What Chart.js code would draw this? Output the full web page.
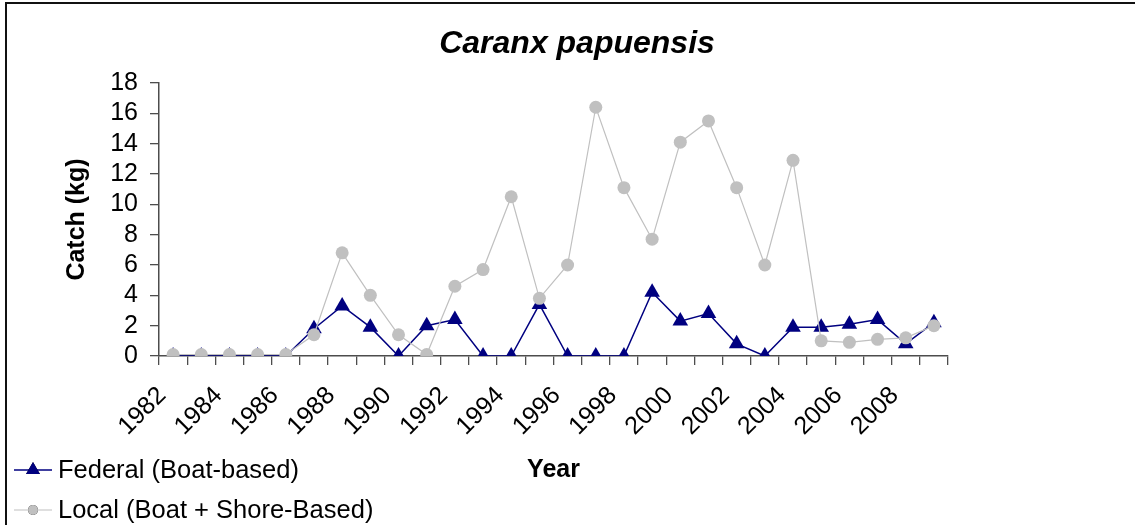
<!DOCTYPE html>
<html>
<head>
<meta charset="utf-8">
<title>Caranx papuensis</title>
<script src="https://cdn.jsdelivr.net/npm/chart.js@4/dist/chart.umd.min.js"></script>
<style>
  html, body { margin: 0; padding: 0; background: #fff; }
  #wrap { position: relative; width: 1135px; height: 525px; }
</style>
</head>
<body>
<div id="wrap"><canvas id="catchChart"></canvas></div>
<script>
const years = ['1982', '1983', '1984', '1985', '1986', '1987', '1988', '1989', '1990', '1991',
               '1992', '1993', '1994', '1995', '1996', '1997', '1998', '1999', '2000', '2001',
               '2002', '2003', '2004', '2005', '2006', '2007', '2008', '2009'];

// catch in kg per year
const federalCatch = [0, 0, 0, 0, 0, 1.8, 3.3, 1.9, 0, 2.0,
                      2.4, 0, 0, 3.4, 0, 0, 0, 4.2, 2.3, 2.8,
                      0.8, 0, 1.9, 1.9, 2.1, 2.4, 0.8, 2.2];
const localCatch = [0.1, 0.1, 0.1, 0.1, 0.1, 1.4, 6.8, 4.0, 1.4, 0.1,
                    4.6, 5.7, 10.5, 3.8, 6.0, 16.4, 11.1, 7.7, 14.1, 15.5,
                    11.1, 6.0, 12.9, 1.0, 0.9, 1.1, 1.2, 2.0];

const seriesNames = ['Federal (Boat-based)', 'Local (Boat + Shore-Based)'];
const yMin = 0, yMax = 18, yStep = 2;

const FONT = "'Liberation Sans', Arial, Helvetica, sans-serif";
const NAVY = '#000080';
const GREY = '#c0c0c0';
const AXIS = '#4d4d4d';

// frame, title and legend drawn straight onto the canvas
const decor = {
    id: 'decor',
    afterDraw(chart) {
        const ctx = chart.ctx;
        ctx.save();

        // outer frame (top and left edges only)
        ctx.strokeStyle = '#111';
        ctx.lineWidth = 2;
        ctx.beginPath();
        ctx.moveTo(1135, 3);
        ctx.lineTo(6, 3);
        ctx.lineTo(6, 525);
        ctx.stroke();

        // title
        ctx.fillStyle = '#000';
        ctx.font = `italic bold 32px ${FONT}`;
        ctx.textAlign = 'center';
        ctx.textBaseline = 'middle';
        ctx.fillText('Caranx papuensis', 577, 44);

        // legend rows
        const rows = [{ y: 470 }, { y: 510 }];
        chart.data.datasets.forEach((ds, i) => {
            const y = rows[i].y;
            ctx.strokeStyle = ds.borderColor;
            ctx.lineWidth = ds.borderWidth;
            ctx.beginPath();
            ctx.moveTo(14, y);
            ctx.lineTo(52, y);
            ctx.stroke();
            Chart.helpers.drawPoint(ctx, {
                pointStyle: ds.pointStyle,
                radius: ds.legendRadius,
                rotation: 0,
                borderWidth: 0
            }, 33, y);
            ctx.fillStyle = ds.pointBackgroundColor;
            ctx.fill();

            ctx.fillStyle = '#000';
            ctx.font = `25.5px ${FONT}`;
            ctx.textAlign = 'left';
            ctx.textBaseline = 'middle';
            ctx.fillText(ds.label, 58, y + 1);
        });
        ctx.restore();
    }
};

const ctx = document.getElementById('catchChart').getContext('2d');

new Chart(ctx, {
    type: 'line',
    data: {
        labels: years,
        datasets: [
            {
                label: seriesNames[0],
                data: federalCatch,
                borderColor: NAVY,
                backgroundColor: NAVY,
                borderWidth: 1.5,
                pointStyle: 'triangle',
                pointRadius: 9,
                legendRadius: 8,
                pointBackgroundColor: NAVY,
                pointBorderColor: NAVY,
                pointBorderWidth: 0,
                tension: 0,
                order: 1
            },
            {
                label: seriesNames[1],
                data: localCatch,
                borderColor: GREY,
                backgroundColor: GREY,
                borderWidth: 1.2,
                pointStyle: 'circle',
                pointRadius: 6.5,
                legendRadius: 5,
                pointBackgroundColor: GREY,
                pointBorderColor: GREY,
                pointBorderWidth: 0,
                tension: 0,
                order: 0
            }
        ]
    },
    options: {
        responsive: true,
        maintainAspectRatio: false,
        animation: false,
        layout: { padding: { left: 0, right: 187, top: 83, bottom: 0 } },
        plugins: {
            legend: { display: false },
            title: { display: false },
            tooltip: { enabled: false }
        },
        scales: {
            x: {
                offset: true,
                grid: {
                    offset: true,
                    drawOnChartArea: false,
                    tickLength: 9,
                    color: AXIS,
                    lineWidth: 1.3
                },
                border: { color: AXIS, width: 1.5 },
                ticks: {
                    autoSkip: false,
                    maxRotation: 45,
                    minRotation: 45,
                    padding: 16,
                    labelOffset: -11,
                    color: '#000',
                    font: { family: FONT, size: 25 },
                    callback: (val, i) => (i % 2 === 0 ? years[i] : '')
                },
                title: {
                    display: true,
                    text: 'Year',
                    color: '#000',
                    font: { family: FONT, size: 25, weight: 'bold' },
                    padding: { top: 0, bottom: 40 }
                },
                afterFit: s => { s.height = 169; }
            },
            y: {
                min: yMin,
                max: yMax,
                grid: {
                    drawOnChartArea: false,
                    tickLength: 9,
                    color: AXIS,
                    lineWidth: 1.3
                },
                border: { color: AXIS, width: 1.5 },
                ticks: {
                    stepSize: yStep,
                    autoSkip: false,
                    padding: 12,
                    color: '#000',
                    font: { family: FONT, size: 25 }
                },
                title: {
                    display: true,
                    text: 'Catch (kg)',
                    color: '#000',
                    font: { family: FONT, size: 25, weight: 'bold' },
                    padding: { top: 62, bottom: 0 }
                },
                afterFit: s => { s.width = 159; }
            }
        }
    },
    plugins: [decor]
});
</script>
</body>
</html>
